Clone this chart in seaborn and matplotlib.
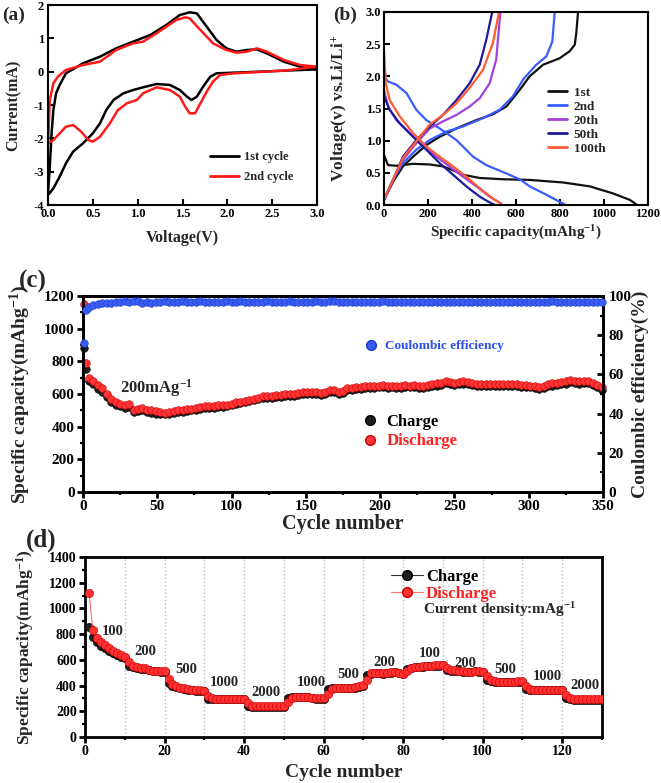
import numpy as np
import pandas as pd
import matplotlib
matplotlib.use("Agg")
import matplotlib.pyplot as plt
import seaborn as sns
from matplotlib.lines import Line2D
from matplotlib.ticker import MultipleLocator

# ---------------- (a) CV curves ----------------
v1_cath = [3.0, 2.63, 2.07, 1.88, 1.81, 1.73, 1.66, 1.6, 1.55, 1.47, 1.36, 1.21, 1.06, 0.95, 0.84,
           0.73, 0.65, 0.58, 0.5, 0.39, 0.28, 0.2, 0.13, 0.06, 0.01, 0.0]
i1_cath = [0.07, 0.03, -0.03, -0.05, -0.15, -0.45, -0.75, -0.85, -0.75, -0.55, -0.4, -0.37, -0.47, -0.55, -0.65,
           -0.85, -1.15, -1.55, -1.85, -2.15, -2.4, -2.75, -3.15, -3.5, -3.67, -3.65]
v1_anod = [0.0, 0.02, 0.04, 0.06, 0.09, 0.13, 0.2, 0.39, 0.58, 0.76, 0.95, 1.14, 1.32, 1.47, 1.58, 1.66,
           1.77, 1.88, 1.99, 2.1, 2.22, 2.33, 2.44, 2.63, 2.81, 3.0]
i1_anod = [-3.65, -2.85, -1.85, -1.15, -0.65, -0.4, -0.05, 0.25, 0.45, 0.7, 0.9, 1.1, 1.4, 1.7, 1.78, 1.75,
           1.35, 0.95, 0.7, 0.6, 0.65, 0.67, 0.55, 0.3, 0.15, 0.07]
v2_cath = [3.0, 2.63, 2.07, 1.92, 1.84, 1.77, 1.7, 1.64, 1.58, 1.53, 1.47, 1.36, 1.21, 1.06, 0.99, 0.88,
           0.78, 0.69, 0.58, 0.5, 0.45, 0.37, 0.28, 0.2, 0.13, 0.06, 0.0]
i2_cath = [0.15, 0.03, -0.05, -0.1, -0.3, -0.6, -0.95, -1.25, -1.25, -1.05, -0.75, -0.55, -0.47, -0.65, -0.85, -0.95,
           -1.15, -1.55, -1.95, -2.1, -2.05, -1.8, -1.6, -1.65, -1.85, -2.05, -2.15]
v2_anod = [0.0, 0.02, 0.06, 0.11, 0.2, 0.39, 0.58, 0.76, 0.95, 1.06, 1.21, 1.32, 1.43, 1.53, 1.58, 1.7,
           1.84, 1.99, 2.1, 2.22, 2.33, 2.44, 2.63, 2.81, 3.0]
i2_anod = [-2.15, -0.85, -0.35, -0.15, 0.05, 0.2, 0.3, 0.65, 0.85, 0.9, 1.15, 1.35, 1.55, 1.63, 1.6, 1.25,
           0.85, 0.65, 0.57, 0.6, 0.7, 0.6, 0.35, 0.2, 0.15]

# ---------------- (b) charge/discharge profiles ----------------
b_cycles = ["1st", "2nd", "20th", "50th", "100th"]
b_dis_cap = [
    [0, 18, 56, 132, 208, 268, 314, 359, 435, 541, 662, 814, 935, 1041, 1117, 1147],
    [0, 18, 56, 102, 147, 192, 253, 329, 405, 465, 556, 617, 662, 738, 798, 821],
    [0, 18, 56, 117, 177, 238, 298, 359, 420, 480, 533],
    [0, 26, 71, 132, 192, 253, 314, 374, 435, 480, 505],
    [0, 8, 26, 71, 132, 192, 253, 314, 374, 435, 495, 533],
]
b_dis_v = [
    [0.78, 0.62, 0.61, 0.64, 0.63, 0.6, 0.54, 0.47, 0.42, 0.4, 0.39, 0.35, 0.29, 0.18, 0.08, 0.01],
    [2.0, 1.92, 1.87, 1.74, 1.48, 1.32, 1.19, 1.01, 0.75, 0.62, 0.49, 0.4, 0.29, 0.16, 0.05, 0.01],
    [1.79, 1.53, 1.32, 1.12, 0.91, 0.75, 0.6, 0.44, 0.29, 0.13, 0.02],
    [1.69, 1.48, 1.27, 1.06, 0.86, 0.65, 0.47, 0.29, 0.13, 0.04, 0.0],
    [2.41, 1.89, 1.63, 1.38, 1.12, 0.91, 0.75, 0.6, 0.44, 0.26, 0.1, 0.02],
]
b_chg_cap = [
    [0, 41, 86, 132, 192, 253, 329, 420, 495, 556, 617, 662, 723, 798, 844, 867, 874, 882],
    [0, 41, 86, 147, 208, 283, 359, 450, 526, 586, 632, 692, 738, 765, 776],
    [0, 41, 86, 147, 208, 268, 329, 389, 435, 480, 510, 518, 529],
    [0, 41, 86, 147, 208, 268, 329, 389, 435, 465, 492],
    [0, 41, 86, 147, 208, 268, 329, 389, 450, 495, 523],
]
b_chg_v = [
    [0.08, 0.36, 0.6, 0.75, 0.93, 1.06, 1.19, 1.32, 1.41, 1.53, 1.79, 2.0, 2.18, 2.28, 2.39, 2.49, 2.67, 3.0],
    [0.08, 0.39, 0.65, 0.86, 1.01, 1.14, 1.22, 1.35, 1.48, 1.69, 1.95, 2.18, 2.31, 2.54, 3.0],
    [0.08, 0.39, 0.7, 0.96, 1.19, 1.3, 1.4, 1.53, 1.66, 1.89, 2.26, 2.57, 3.0],
    [0.08, 0.39, 0.75, 1.01, 1.22, 1.4, 1.63, 1.89, 2.18, 2.57, 3.0],
    [0.08, 0.39, 0.73, 0.99, 1.25, 1.4, 1.58, 1.82, 2.1, 2.52, 3.0],
]
b_colors = ["#111111", "#3a5cff", "#a040e0", "#1a1a9a", "#ff5a30"]

# ---------------- (c) long-term cycling ----------------
cycles_c = [1, 2] + list(range(4, 351, 3))
discharge_c = [1150, 790,
    695, 680, 655, 635, 600, 570, 550, 540, 530, 540,
    505, 510, 515, 505, 500, 495, 490, 485, 490, 495,
    500, 505, 510, 510, 515, 520, 525, 525, 528, 530,
    532, 535, 540, 548, 552, 560, 565, 572, 578, 585,
    588, 590, 592, 594, 598, 600, 602, 606, 610, 612,
    615, 612, 608, 612, 622, 625, 610, 620, 635, 638,
    642, 645, 650, 648, 650, 652, 655, 650, 652, 648,
    650, 655, 652, 655, 650, 648, 655, 660, 665, 670,
    680, 675, 668, 672, 678, 676, 668, 662, 660, 660,
    660, 660, 660, 662, 660, 660, 660, 658, 656, 652,
    648, 645, 650, 660, 665, 670, 675, 678, 688, 682,
    678, 682, 680, 670, 655, 640]
charge_c = [880, 755,
    680, 660, 630, 610, 580, 550, 535, 525, 515, 520,
    490, 495, 500, 490, 485, 480, 478, 475, 478, 482,
    488, 492, 498, 500, 505, 508, 512, 514, 516, 518,
    520, 524, 530, 536, 542, 548, 555, 562, 568, 574,
    576, 578, 580, 582, 586, 588, 590, 594, 598, 600,
    602, 600, 596, 600, 610, 612, 598, 608, 622, 626,
    630, 633, 638, 636, 638, 640, 642, 638, 640, 636,
    638, 642, 640, 642, 638, 636, 642, 646, 652, 657,
    666, 662, 655, 660, 664, 662, 655, 650, 648, 648,
    648, 648, 648, 650, 648, 648, 647, 645, 643, 640,
    636, 633, 638, 646, 651, 656, 661, 664, 672, 668,
    664, 668, 666, 656, 642, 625]
ce_c = [76.0, 93.0,
    94.5, 95.5, 96.0, 96.3, 96.5, 96.6, 96.8, 97.0, 97.4, 97.0,
    97.6, 97.2, 96.5, 97.0, 96.2, 96.8, 97.0, 97.2, 97.0, 96.8,
    97.0, 97.2, 96.8, 97.1, 97.0, 97.3, 97.0, 96.9, 97.0, 97.1,
    97.0, 97.2, 97.1, 97.0, 97.3, 97.1, 97.0, 96.9, 97.0, 97.1,
    97.2, 97.0, 96.9, 97.1, 97.0, 97.2, 97.0, 96.8, 97.0, 97.1,
    97.0, 97.2, 97.0, 96.9, 97.3, 97.6, 97.0, 96.9, 97.1, 97.0,
    96.8, 97.0, 97.1, 97.0, 96.9, 97.0, 97.2, 96.8, 96.9, 97.0,
    96.8, 96.9, 97.0, 96.9, 96.8, 96.9, 97.0, 96.8, 96.9, 97.0,
    96.9, 97.1, 96.8, 96.9, 97.0, 96.9, 96.8, 96.9, 97.0, 96.9,
    97.0, 96.9, 96.8, 96.9, 97.0, 96.9, 97.0, 96.9, 96.8, 96.9,
    97.0, 96.9, 96.8, 97.0, 97.2, 96.9, 96.8, 97.0, 96.9, 96.8,
    96.9, 96.8, 96.9, 97.0, 96.8, 97.0]

# ---------------- (d) rate performance ----------------
cycles_d = list(range(1, 131))
discharge_d = [
    1120, 830, 770, 740, 715, 690, 670, 655, 640, 625,
    580, 555, 545, 540, 535, 525, 515, 512, 512, 510,
    450, 410, 395, 385, 378, 372, 368, 365, 362, 358,
    320, 300, 295, 298, 298, 298, 298, 298, 298, 298,
    265, 240, 238, 238, 238, 238, 238, 238, 238, 238,
    275, 300, 310, 315, 315, 312, 305, 300, 300, 300,
    335, 375, 382, 385, 385, 385, 385, 388, 395, 405,
    445, 495, 500, 500, 495, 500, 505, 505, 500, 490,
    510, 535, 545, 548, 550, 552, 555, 558, 558, 562,
    540, 520, 520, 515, 510, 505, 505, 515, 512, 505,
    475, 445, 435, 430, 428, 428, 428, 430, 432, 432,
    400, 370, 368, 368, 368, 368, 368, 368, 368, 365,
    325, 300, 295, 292, 292, 292, 292, 292, 292, 292]
charge_d = [
    855, 775, 740, 710, 690, 670, 655, 640, 625, 612,
    555, 545, 538, 532, 528, 520, 512, 510, 508, 505,
    420, 400, 388, 380, 374, 368, 364, 360, 358, 355,
    295, 292, 292, 295, 295, 295, 295, 295, 295, 295,
    240, 235, 235, 235, 235, 235, 235, 235, 235, 235,
    300, 308, 312, 312, 312, 308, 302, 298, 298, 298,
    370, 378, 380, 382, 382, 382, 382, 385, 390, 398,
    485, 490, 495, 495, 492, 496, 500, 502, 496, 488,
    532, 540, 542, 545, 548, 550, 552, 555, 555, 558,
    520, 515, 515, 512, 506, 502, 502, 510, 508, 502,
    440, 432, 428, 425, 424, 424, 424, 426, 428, 428,
    372, 365, 364, 364, 364, 364, 364, 364, 364, 362,
    300, 292, 290, 290, 290, 290, 290, 290, 290, 290]
rate_labels = ["100", "200", "500", "1000", "2000", "1000", "500", "200", "100", "200", "500", "1000", "2000"]
rate_label_x = [6.9, 15.1, 25.4, 35.1, 45.5, 56.9, 66.3, 75.3, 86.7, 95.7, 105.7, 116.3, 125.8]
rate_label_y = [817, 666, 524, 423, 350, 423, 487, 583, 648, 570, 524, 472, 402]

# ---------------- style ----------------
sns.set_theme(style="ticks")
plt.rcParams['font.family'] = ['Liberation Serif', 'DejaVu Serif']
plt.rcParams['font.weight'] = 'bold'
plt.rcParams['axes.labelweight'] = 'bold'
plt.rcParams['mathtext.fontset'] = 'custom'
plt.rcParams['mathtext.rm'] = 'Liberation Serif:bold'
plt.rcParams['mathtext.bf'] = 'Liberation Serif:bold'
plt.rcParams['mathtext.it'] = 'Liberation Serif:bold:italic'
plt.rcParams['axes.unicode_minus'] = False

W, H = 661, 783
fig = plt.figure(figsize=(W / 100, H / 100), dpi=100)


def add_ax(x0, y0, x1, y1):
    return fig.add_axes([x0 / W, 1 - y1 / H, (x1 - x0) / W, (y1 - y0) / H])


def style(ax, lw, fs, direction):
    for s in ax.spines.values():
        s.set_linewidth(lw)
        s.set_color('black')
        s.set_visible(True)
    ax.tick_params(which='major', labelsize=fs, width=lw, length=4, color='black',
                   labelcolor='black', direction=direction, pad=2)
    ax.tick_params(which='minor', width=lw * 0.8, length=2.5, color='black', direction=direction)
    for lab in ax.get_xticklabels() + ax.get_yticklabels():
        lab.set_fontweight('bold')


# ---- (a)
axa = add_ax(48, 5, 317, 205)
sns.lineplot(x=v1_cath + v1_anod, y=i1_cath + i1_anod, sort=False, estimator=None,
             color='#000000', lw=1.8, ax=axa)
sns.lineplot(x=v2_cath + v2_anod, y=i2_cath + i2_anod, sort=False, estimator=None,
             color='#ff1a1a', lw=1.8, ax=axa)
axa.set_xlim(0, 3.0)
axa.set_ylim(-4, 2)
xt_a = np.arange(0, 3.01, 0.5)
axa.set_xticks(xt_a)
axa.set_xticklabels([f"{t:.1f}" for t in xt_a])
axa.set_yticks(np.arange(-4, 2.01, 1))
style(axa, 1.5, 9, 'in')
axa.tick_params(axis='y', pad=3)
axa.set_xlabel("Voltage(V)", fontsize=11.5, fontweight='bold')
axa.set_ylabel("Current(mA)", fontsize=11.5, fontweight='bold')
axa.yaxis.set_label_coords(-0.097, 0.5)
axa.xaxis.set_label_coords(0.5, -0.125)
ha = [Line2D([0], [0], color='#000000', lw=2), Line2D([0], [0], color='#ff1a1a', lw=2)]
axa.legend(ha, ["1st cycle", "2nd cycle"], loc='center left', bbox_to_anchor=(0.603, 0.19),
           frameon=False, handlelength=2.3, labelspacing=0.65, handletextpad=0.4,
           borderpad=0, borderaxespad=0, prop={'weight': 'bold', 'size': 9})

# ---- (b)
axb = add_ax(384, 12, 648, 205)
for k in range(len(b_cycles)):
    sns.lineplot(x=b_dis_cap[k], y=b_dis_v[k], sort=False, estimator=None,
                 color=b_colors[k], lw=1.6, ax=axb)
    sns.lineplot(x=b_chg_cap[k], y=b_chg_v[k], sort=False, estimator=None,
                 color=b_colors[k], lw=1.6, ax=axb)
axb.set_xlim(0, 1200)
axb.set_ylim(0, 3.0)
axb.set_xticks(np.arange(0, 1201, 200))
yt_b = np.arange(0, 3.01, 0.5)
axb.set_yticks(yt_b)
axb.set_yticklabels([f"{t:.1f}" for t in yt_b])
style(axb, 1.5, 9, 'in')
axb.set_xlabel(r"Specific capacity(mAhg$^{-1}$)", fontsize=11, fontweight='bold')
axb.set_ylabel(r"Voltage(v) vs.Li/Li$^{+}$", fontsize=12.5, fontweight='bold')
axb.yaxis.set_label_coords(-0.129, 0.5)
axb.xaxis.set_label_coords(0.5, -0.098)
hb = [Line2D([0], [0], color=c, lw=2) for c in b_colors]
axb.legend(hb, b_cycles, loc='center left', bbox_to_anchor=(0.621, 0.437), frameon=False,
           handlelength=1.45, labelspacing=0.14, handletextpad=0.5, borderpad=0, borderaxespad=0,
           prop={'weight': 'bold', 'size': 9.5})

# ---- (c)
axc = add_ax(83, 296, 603, 492)
axc2 = axc.twinx()
sns.scatterplot(x=cycles_c, y=charge_c, color='#1e1e1e', edgecolor='#000000', linewidth=0.4,
                s=30, ax=axc, zorder=3, clip_on=False)
sns.scatterplot(x=cycles_c, y=discharge_c, color='#ff3535', edgecolor='#c80000', linewidth=0.4,
                s=30, ax=axc, zorder=4, clip_on=False)
sns.scatterplot(x=cycles_c, y=ce_c, color='#3a5cf0', edgecolor='#1a3ad0', linewidth=0.4,
                s=30, ax=axc2, zorder=3, clip_on=False)
axc.set_xlim(0, 350)
axc.set_ylim(0, 1200)
axc2.set_ylim(0, 100)
axc.xaxis.set_major_locator(MultipleLocator(50))
axc.xaxis.set_minor_locator(MultipleLocator(25))
axc.yaxis.set_major_locator(MultipleLocator(200))
axc.yaxis.set_minor_locator(MultipleLocator(100))
axc2.yaxis.set_major_locator(MultipleLocator(20))
axc2.yaxis.set_minor_locator(MultipleLocator(10))
style(axc, 2, 11, 'out')
style(axc2, 2, 11, 'in')
axc2.tick_params(axis='y', pad=4)
axc.set_xlabel("Cycle number", fontsize=14.5, fontweight='bold')
axc.set_ylabel(r"Specific capacity(mAhg$^{-1}$)", fontsize=14, fontweight='bold')
axc2.set_ylabel("Coulombic efficiency(%)", fontsize=14, fontweight='bold', rotation=90)
axc.yaxis.set_label_coords(-0.098, 0.5)
axc2.yaxis.set_label_coords(1.056, 0.5)
axc.xaxis.set_label_coords(0.5, -0.11)
axc.text(25, 636, r"200mAg$^{-1}$", fontsize=12, fontweight='bold', va='center', ha='left')
hc = [Line2D([0], [0], ls='none', marker='o', ms=7, mfc='#1e1e1e', mec='#000000'),
      Line2D([0], [0], ls='none', marker='o', ms=7, mfc='#ff3535', mec='#c80000')]
axc.legend(hc, ["Charge", "Discharge"], loc='center left', bbox_to_anchor=(0.535, 0.3075),
           frameon=False, handlelength=1.0, labelspacing=0.2, handletextpad=0.5, borderpad=0,
           borderaxespad=0, labelcolor=['#000000', '#ff2020'], prop={'weight': 'bold', 'size': 12})
hce = [Line2D([0], [0], ls='none', marker='o', ms=7, mfc='#3a5cf0', mec='#1a3ad0')]
axc2.legend(hce, ["Coulombic efficiency"], loc='center left', bbox_to_anchor=(0.542, 0.743),
            frameon=False, handlelength=1.0, handletextpad=0.5, borderpad=0, borderaxespad=0,
            labelcolor=['#2a4cf0'], prop={'weight': 'bold', 'size': 9.5})

# ---- (d)
axd = add_ax(85, 557, 602, 737)
for xv in range(10, 130, 10):
    axd.axvline(xv, color='#b8b8b8', ls=':', lw=1.0, zorder=0)
sns.lineplot(x=cycles_d, y=charge_d, color='#333333', lw=0.8, marker='o', markersize=6,
             markerfacecolor='#1e1e1e', markeredgecolor='#000000', markeredgewidth=0.4, ax=axd, zorder=3)
sns.lineplot(x=cycles_d, y=discharge_d, color='#ff7070', lw=0.8, marker='o', markersize=6,
             markerfacecolor='#ff3030', markeredgecolor='#c80000', markeredgewidth=0.4, ax=axd, zorder=4)
axd.set_xlim(0, 130)
axd.set_ylim(0, 1400)
axd.xaxis.set_major_locator(MultipleLocator(20))
axd.xaxis.set_minor_locator(MultipleLocator(10))
axd.yaxis.set_major_locator(MultipleLocator(200))
axd.yaxis.set_minor_locator(MultipleLocator(100))
style(axd, 2, 10, 'out')
axd.set_xlabel("Cycle number", fontsize=14, fontweight='bold')
axd.set_ylabel(r"Specific capacity(mAhg$^{-1}$)", fontsize=12.5, fontweight='bold')
axd.yaxis.set_label_coords(-0.095, 0.5)
axd.xaxis.set_label_coords(0.5, -0.15)
for t, xx, yy in zip(rate_labels, rate_label_x, rate_label_y):
    axd.text(xx, yy, t, fontsize=10.5, fontweight='bold', ha='center', va='center')
hd = [Line2D([0], [0], color='#333333', lw=0.8, marker='o', ms=7, mfc='#1e1e1e', mec='#000000'),
      Line2D([0], [0], color='#ff7070', lw=0.8, marker='o', ms=7, mfc='#ff3030', mec='#c80000')]
axd.legend(hd, ["Charge", "Discharge"], loc='center left', bbox_to_anchor=(0.592, 0.843),
           frameon=False, handlelength=1.9, labelspacing=0.05, handletextpad=0.2, borderpad=0,
           borderaxespad=0, labelcolor=['#000000', '#ff2020'], prop={'weight': 'bold', 'size': 12})
axd.text(85, 990, r"Current density:mAg$^{-1}$", fontsize=11, fontweight='bold', ha='left', va='center')

# ---- panel letters
fig.text(2 / W, 1 - 15 / H, "(a)", fontsize=14, fontweight='bold', va='center', ha='left')
fig.text(333 / W, 1 - 15 / H, "(b)", fontsize=14, fontweight='bold', va='center', ha='left')
fig.text(19 / W, 1 - 281 / H, "(c)", fontsize=18, fontweight='bold', va='center', ha='left')
fig.text(26 / W, 1 - 540 / H, "(d)", fontsize=18, fontweight='bold', va='center', ha='left')

fig.savefig("out.png", dpi=100, facecolor='white')
